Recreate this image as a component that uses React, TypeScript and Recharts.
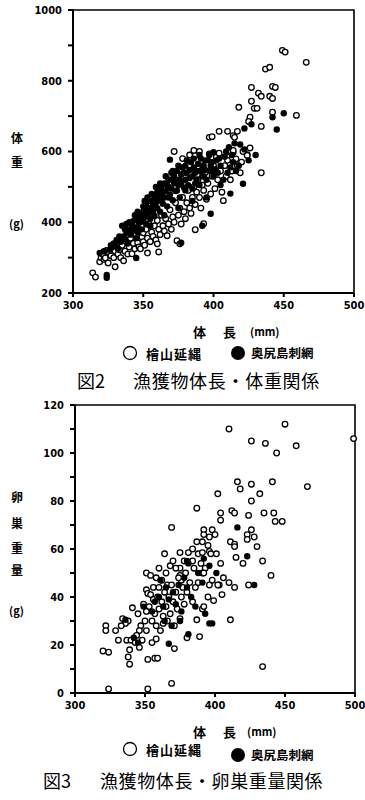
import React from "react";
import {
  ReferenceArea,
  Scatter,
  ScatterChart,
  XAxis,
  YAxis,
} from "recharts";

// 図2: 体長 (mm) vs 体重 (g)
const wtHiyama: [number, number][] = [
  [449, 886], [451, 881], [466, 852], [437, 833], [440, 838], [427, 781], [442, 784], [444, 781],
  [432, 765], [434, 756], [440, 756], [442, 750], [427, 742], [418, 725], [429, 722], [431, 722],
  [442, 711], [459, 702], [426, 697], [425, 685], [434, 671], [404, 657], [410, 657], [414, 645],
  [417, 657], [415, 640], [397, 640], [399, 642], [424, 591], [414, 597], [387, 589], [434, 540],
  [314, 257], [316, 245], [319, 288], [320, 300], [321, 310], [322, 295], [323, 299], [324, 320],
  [325, 285], [326, 313], [327, 305], [328, 330], [329, 300], [330, 274], [330, 318], [331, 339],
  [332, 310], [333, 322], [334, 300], [335, 335], [336, 291], [337, 318], [338, 345], [339, 310],
  [340, 330], [341, 355], [342, 311], [343, 340], [344, 325], [345, 365], [346, 342], [347, 330],
  [348, 325], [349, 358], [350, 370], [350, 345], [351, 335], [352, 380], [353, 313], [353, 355],
  [354, 395], [355, 345], [356, 372], [357, 360], [358, 390], [359, 350], [360, 339], [360, 405],
  [361, 316], [361, 380], [362, 365], [363, 420], [364, 390], [365, 375], [366, 410], [367, 362],
  [368, 395], [369, 435], [370, 380], [371, 415], [372, 400], [373, 455], [374, 348], [375, 420],
  [376, 339], [376, 440], [377, 395], [378, 470], [379, 430], [380, 410], [381, 455], [382, 490],
  [383, 440], [384, 425], [385, 470], [386, 500], [387, 379], [387, 450], [388, 485], [389, 520],
  [390, 470], [391, 440], [392, 505], [393, 396], [393, 490], [394, 540], [395, 465], [396, 510],
  [397, 593], [398, 480], [399, 530], [400, 560], [401, 495], [402, 584], [403, 520], [404, 595],
  [405, 545], [406, 485], [407, 461], [408, 560], [409, 530], [410, 575], [411, 600], [412, 520],
  [413, 545], [414, 603], [416, 579], [417, 560], [419, 540], [420, 570], [421, 600], [424, 589],
  [426, 610], [372, 600], [383, 590], [378, 580], [390, 600], [386, 603],
];
const wtOkushiri: [number, number][] = [
  [324, 251], [324, 243], [319, 313], [322, 318], [326, 322], [328, 330], [330, 335], [332, 325],
  [334, 345], [335, 390], [336, 360], [337, 352], [338, 370], [339, 340], [340, 378], [341, 365],
  [342, 392], [343, 404], [344, 385], [345, 299], [345, 410], [346, 372], [347, 398], [348, 420],
  [349, 380], [350, 430], [350, 402], [351, 415], [352, 452], [352, 395], [353, 440], [354, 425],
  [355, 410], [355, 460], [356, 432], [357, 448], [358, 470], [358, 418], [359, 455], [360, 440],
  [360, 485], [361, 462], [362, 475], [362, 430], [363, 500], [364, 452], [365, 470], [365, 510],
  [366, 488], [367, 445], [368, 500], [368, 520], [369, 577], [369, 478], [370, 540], [370, 495],
  [371, 462], [372, 510], [372, 530], [373, 488], [374, 545], [375, 505], [376, 520], [376, 470],
  [377, 342], [377, 535], [378, 555], [379, 498], [380, 520], [380, 560], [381, 540], [382, 505],
  [383, 548], [384, 570], [385, 530], [385, 495], [386, 555], [387, 540], [388, 520], [389, 565],
  [390, 545], [390, 505], [391, 580], [392, 390], [392, 530], [393, 560], [394, 548], [395, 520],
  [396, 575], [397, 545], [398, 424], [398, 560], [400, 530], [401, 550], [402, 575], [403, 540],
  [405, 560], [407, 520], [408, 585], [410, 540], [411, 612], [412, 481], [412, 555], [414, 570],
  [415, 623], [416, 545], [418, 560], [421, 509], [422, 606], [422, 665], [425, 575], [427, 677],
  [442, 697], [445, 662], [450, 708], [405, 505], [395, 470], [385, 460], [375, 440], [365, 420],
  [355, 390], [345, 355], [400, 598], [430, 590],
  [338, 395], [340, 400], [342, 375], [344, 420], [346, 430], [348, 405], [350, 445], [351, 460],
  [353, 470], [354, 440], [356, 480], [357, 455], [359, 500], [361, 490], [362, 510], [364, 485],
  [366, 530], [367, 505], [369, 520], [371, 545], [373, 520], [375, 560], [377, 510], [379, 540],
  [381, 575], [383, 525], [386, 580], [388, 545], [390, 590], [392, 560], [394, 575], [397, 590],
  [399, 570], [346, 385], [349, 410], [352, 425], [357, 430], [363, 460], [368, 470], [374, 490],
  [380, 490], [387, 510], [393, 530], [399, 545], [404, 580], [409, 600], [413, 590], [419, 620],
  [337, 380], [333, 360], [331, 350], [329, 340], [327, 335],
];

// 図3: 体長 (mm) vs 卵巣重量 (g)
const ovHiyama: [number, number][] = [
  [410, 110], [450, 112], [426, 105], [436, 104], [444, 100], [458, 103], [499, 106], [466, 86],
  [416, 88], [426, 87], [441, 88], [418, 85], [432, 83], [402, 83], [426, 80], [387, 77],
  [404, 75], [404, 72], [412, 76], [414, 75], [424, 74], [435, 75], [442, 75], [443, 71.5],
  [448, 71.5], [369, 69], [392, 68], [392, 66], [398, 68], [400, 66], [396, 65], [426, 68],
  [428, 65], [423, 66], [423, 64], [430, 61], [411, 63], [414, 62], [414, 61], [387, 63],
  [391, 63], [395, 61.5], [364, 58], [375, 58.5], [381, 58.5], [384, 60], [388, 58], [391, 58.5],
  [396, 59], [397, 58], [401, 58], [368, 53], [375, 52], [390, 54], [393, 52], [415, 56.5],
  [420, 54], [434, 55], [391, 50], [392, 50], [406, 48], [403, 45], [414, 44], [424, 45],
  [440, 49], [351, 50], [354, 49], [375, 49], [376, 47], [351, 43], [352, 41.5], [356, 44],
  [360, 44], [366, 45], [341, 35.5], [349, 37], [351, 34], [356, 39], [359, 40], [334, 31],
  [338, 30], [322, 28], [322, 26], [329, 26], [331, 22], [337, 22], [340, 22], [343, 21],
  [346, 19], [339, 18], [320, 17.5], [324, 17], [338, 15], [339, 12], [351, 26], [355, 21],
  [352, 14], [357, 14.5], [359, 14.5], [358, 22.5], [371, 18.5], [324, 1.7], [352, 1.7], [369, 4],
  [380, 23], [389, 23.5], [387, 30.5], [391, 35], [392, 36], [395, 40], [399, 38.5], [402, 45],
  [411, 30.5], [434, 11], [360, 35], [362, 38], [363, 32], [364, 42], [365, 36], [366, 30],
  [367, 40], [368, 33], [369, 45], [370, 38], [371, 28], [372, 42], [373, 35], [374, 48],
  [375, 31], [376, 40], [377, 44], [378, 37], [379, 50], [380, 42], [382, 46], [384, 38],
  [385, 52], [386, 44], [355, 30], [357, 33], [358, 28], [361, 26], [363, 29], [345, 33],
  [347, 28], [350, 30], [353, 36], [346, 26], [344, 24], [348, 22], [336, 29], [333, 28],
  [365, 50], [362, 47], [358, 48], [370, 55], [372, 52], [378, 55], [360, 52], [354, 41],
  [388, 46], [396, 45], [384, 55], [404, 54], [410, 46], [405, 41], [398, 47],
];
const ovOkushiri: [number, number][] = [
  [416, 69], [428, 45], [401, 50], [423, 57], [396, 53], [380, 55], [381, 54], [367, 20.5],
  [381, 24.5], [396, 29], [398, 29], [336, 30.5], [349, 36], [342, 23], [345, 21], [355, 34],
  [357, 38], [360, 40], [363, 36], [365, 44], [367, 39], [370, 42], [372, 37], [374, 45],
  [376, 34], [378, 48], [380, 44], [383, 40], [386, 36], [388, 50], [391, 46], [364, 30],
  [369, 28], [361, 47], [375, 30], [392, 56], [393, 33],
];

const xTicks = [300, 350, 400, 450, 500];
const wtTicks = [200, 300, 400, 500, 600, 700, 800, 900, 1000];
const ovTicks = [0, 10, 20, 30, 40, 50, 60, 70, 80, 90, 100, 110, 120];

const toPts = (arr: [number, number][]) => arr.map(([x, y]) => ({ x, y }));

const numFont = "'DejaVu Sans Condensed', 'DejaVu Sans', sans-serif";
const jpFont = "'Noto Sans CJK JP', sans-serif";
const tickStyle = { fontSize: 11, fontWeight: 700, fill: "#000", fontFamily: numFont };

const OpenDot = (p: any) => (
  <circle cx={p.cx} cy={p.cy} r={2.8} fill="#fff" stroke="#000" strokeWidth={1.3} />
);
const FilledDot = (p: any) => <circle cx={p.cx} cy={p.cy} r={3.2} fill="#000" />;

function Plot(props: {
  top: number;
  height: number;
  yw: number;
  right: number;
  domain: [number, number];
  yTicks: number[];
  label: (v: number) => string;
  open: [number, number][];
  filled: [number, number][];
}) {
  const { top, height, yw, right, domain, yTicks, label, open, filled } = props;
  return (
    <div style={{ position: "absolute", left: 0, top }}>
      <ScatterChart width={365} height={height} margin={{ top: 10, right, left: 0, bottom: 0 }}>
        <XAxis
          type="number"
          dataKey="x"
          domain={[300, 500]}
          ticks={xTicks}
          height={22}
          tickSize={4}
          tickMargin={4}
          stroke="#000"
          strokeWidth={2}
          tick={tickStyle}
        />
        <YAxis
          type="number"
          dataKey="y"
          domain={domain}
          ticks={yTicks}
          width={yw}
          tickSize={5}
          tickMargin={6}
          stroke="#000"
          strokeWidth={2}
          tick={tickStyle}
          tickFormatter={label}
        />
        <YAxis
          yAxisId="r"
          orientation="right"
          type="number"
          domain={domain}
          ticks={yTicks}
          width={0}
          tickSize={4}
          tick={false}
          stroke="#000"
          strokeWidth={2}
        />
        <ReferenceArea
          x1={300}
          x2={500}
          y1={domain[0]}
          y2={domain[1]}
          fill="none"
          stroke="#000"
          strokeWidth={1.6}
        />
        <Scatter data={toPts(open)} shape={OpenDot} isAnimationActive={false} />
        <Scatter data={toPts(filled)} shape={FilledDot} isAnimationActive={false} />
      </ScatterChart>
    </div>
  );
}

const txt = (x: number, y: number, s: string, size: number, extra: any = {}) => (
  <div
    style={{
      position: "absolute",
      left: x,
      top: y - size / 2,
      fontSize: size,
      lineHeight: `${size}px`,
      fontFamily: jpFont,
      fontWeight: 700,
      whiteSpace: "nowrap",
      color: "#000",
      ...extra,
    }}
  >
    {s}
  </div>
);

const Legend = ({ y, y2 }: { y: number; y2: number }) => (
  <>
    <svg style={{ position: "absolute", left: 0, top: 0 }} width={365} height={800}>
      <circle cx={130} cy={y} r={6.5} fill="#fff" stroke="#000" strokeWidth={1.3} />
      <circle cx={238} cy={y2} r={7} fill="#000" />
    </svg>
    {txt(146, y, "檜山延縄", 13, { letterSpacing: 1 })}
    {txt(251, y2, "奥尻島刺網", 12.5)}
  </>
);

export default function App() {
  return (
    <div style={{ position: "absolute", left: 0, top: 0, width: 365, height: 800, background: "#fff" }}>
      <Plot
        top={0}
        height={315}
        yw={73}
        right={11}
        domain={[200, 1000]}
        yTicks={wtTicks}
        label={(v) => (v % 200 === 0 ? String(v) : "")}
        open={wtHiyama}
        filled={wtOkushiri}
      />
      {txt(11, 138, "体", 12)}
      {txt(11, 162, "重", 12)}
      {txt(9, 223, "(g)", 11)}
      {txt(193, 331, "体", 13)}
      {txt(223, 331, "長", 13)}
      {txt(250, 331, "(mm)", 11)}
      <Legend y={353} y2={353} />
      {txt(77, 380, "図2", 18, { fontWeight: 400 })}
      {txt(133, 380, "漁獲物体長・体重関係", 18, { fontWeight: 400, letterSpacing: 0.7 })}

      <Plot
        top={395}
        height={320}
        yw={75}
        right={10}
        domain={[0, 120]}
        yTicks={ovTicks}
        label={(v) => (v % 20 === 0 ? String(v) : "")}
        open={ovHiyama}
        filled={ovOkushiri}
      />
      {txt(11, 497, "卵", 12)}
      {txt(11, 523, "巣", 12)}
      {txt(11, 548, "重", 12)}
      {txt(11, 570, "量", 12)}
      {txt(9, 610, "(g)", 11)}
      {txt(193, 731, "体", 13)}
      {txt(223, 731, "長", 13)}
      {txt(247, 731, "(mm)", 11)}
      <Legend y={749} y2={755} />
      {txt(43, 780, "図3", 18, { fontWeight: 400 })}
      {txt(100, 780, "漁獲物体長・卵巣重量関係", 18, { fontWeight: 400, letterSpacing: 0.6 })}
    </div>
  );
}
